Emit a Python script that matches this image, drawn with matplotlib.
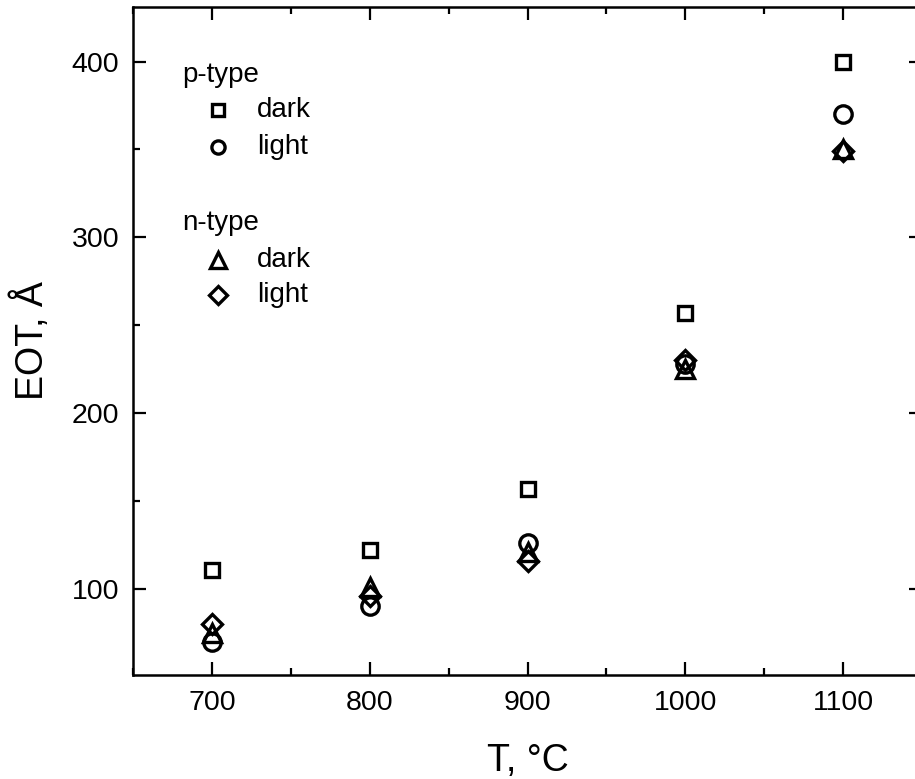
import matplotlib
matplotlib.use('Agg')
import matplotlib.pyplot as plt
from matplotlib.ticker import MultipleLocator

plt.rcParams['font.family'] = ['Liberation Sans', 'DejaVu Sans']

# annealing temperature, C
temps = [700, 800, 900, 1000, 1100]
# EOT values, Angstrom
p_dark = [111, 122, 157, 257, 400]
p_light = [70, 90, 126, 228, 370]
n_dark = [75, 101, 121, 225, 350]
n_light = [80, 96, 116, 230, 349]

fig = plt.figure(figsize=(9.15, 7.79), dpi=100)
ax = fig.add_axes([0.1454, 0.1335, 0.8623, 0.8575])

mk = dict(ls='none', mfc='none', mec='black', mew=2.4, clip_on=False)
ax.plot(temps, p_dark, marker='s', ms=9.5, **mk)
ax.plot(temps, p_light, marker='o', ms=12.5, **mk)
ax.plot(temps, n_dark, marker='^', ms=13, **mk)
ax.plot(temps, n_light, marker='D', ms=10.5, **mk)

ax.set_xlim(650, 1150)
ax.set_ylim(51, 431)
ax.xaxis.set_major_locator(MultipleLocator(100))
ax.xaxis.set_minor_locator(MultipleLocator(50))
ax.yaxis.set_major_locator(MultipleLocator(100))
ax.yaxis.set_minor_locator(MultipleLocator(50))
ax.tick_params(which='both', direction='in', top=True, right=True, width=1.6,
               labelsize=20.5)
ax.tick_params(which='major', length=9.5)
ax.tick_params(which='minor', length=5)
ax.tick_params(axis='x', pad=11)
ax.tick_params(axis='y', pad=10)
for s in ax.spines.values():
    s.set_linewidth(1.8)

ax.set_xlabel('T, °C', fontsize=27, labelpad=19)
ax.set_ylabel('EOT, Å', fontsize=27, labelpad=15)

# hand-made legend
tr = ax.transAxes
ax.text(0.062, 0.898, 'p-type', transform=tr, fontsize=20, va='center')
ax.text(0.062, 0.677, 'n-type', transform=tr, fontsize=20, va='center')
leg_items = [('s', 8.5, 'dark', 0.846), ('o', 9.5, 'light', 0.790),
             ('^', 12, 'dark', 0.621), ('D', 9.5, 'light', 0.569)]
for m, size, lab, yy in leg_items:
    ax.plot([0.1077], [yy], transform=tr, marker=m, ms=size, ls='none',
            mfc='none', mec='black', mew=2.4, clip_on=False)
    ax.text(0.157, yy, lab, transform=tr, fontsize=20, va='center')

fig.savefig('out.png', dpi=100)
